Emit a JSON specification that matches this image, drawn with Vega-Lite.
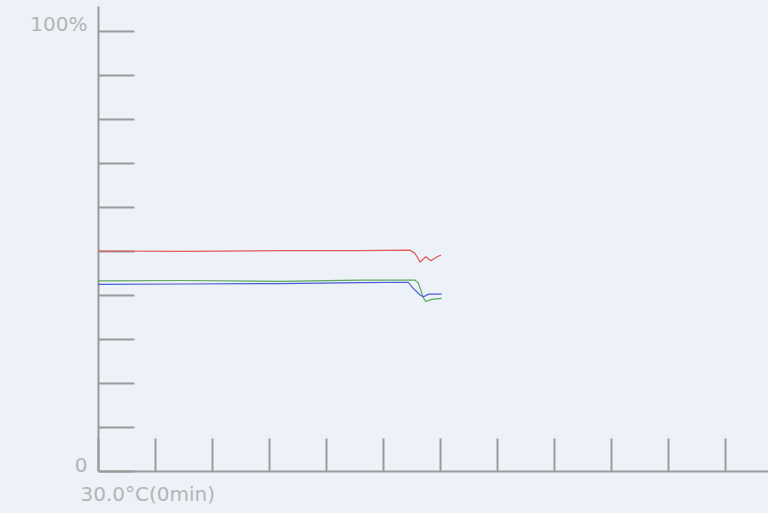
{
  "$schema": "https://vega.github.io/schema/vega-lite/v6.json",
  "width": 670,
  "height": 465,
  "autosize": {"type": "none"},
  "padding": {"left": 98, "top": 6, "right": 0, "bottom": 42},
  "background": "#EDF1F8",
  "config": {"view": {"stroke": null}},
  "data": {
    "values": [
      {"t": 0, "v": 50.0, "s": "red"},
      {"t": 1.5, "v": 49.9, "s": "red"},
      {"t": 3.2, "v": 50.1, "s": "red"},
      {"t": 4.6, "v": 50.1, "s": "red"},
      {"t": 5.47, "v": 50.2, "s": "red"},
      {"t": 5.56, "v": 49.5, "s": "red"},
      {"t": 5.65, "v": 47.5, "s": "red"},
      {"t": 5.75, "v": 48.7, "s": "red"},
      {"t": 5.84, "v": 47.8, "s": "red"},
      {"t": 5.95, "v": 48.7, "s": "red"},
      {"t": 6.02, "v": 49.1, "s": "red"},
      {"t": 0, "v": 43.2, "s": "green"},
      {"t": 1.5, "v": 43.3, "s": "green"},
      {"t": 3.2, "v": 43.1, "s": "green"},
      {"t": 4.6, "v": 43.4, "s": "green"},
      {"t": 5.56, "v": 43.4, "s": "green"},
      {"t": 5.62, "v": 42.7, "s": "green"},
      {"t": 5.71, "v": 39.3, "s": "green"},
      {"t": 5.75, "v": 38.5, "s": "green"},
      {"t": 5.85, "v": 39.0, "s": "green"},
      {"t": 6.03, "v": 39.25, "s": "green"},
      {"t": 0, "v": 42.4, "s": "blue"},
      {"t": 1.5, "v": 42.5, "s": "blue"},
      {"t": 3.2, "v": 42.6, "s": "blue"},
      {"t": 4.6, "v": 42.8, "s": "blue"},
      {"t": 5.44, "v": 42.9, "s": "blue"},
      {"t": 5.53, "v": 41.5, "s": "blue"},
      {"t": 5.65, "v": 40.0, "s": "blue"},
      {"t": 5.71, "v": 39.6, "s": "blue"},
      {"t": 5.8, "v": 40.2, "s": "blue"},
      {"t": 6.03, "v": 40.2, "s": "blue"}
    ]
  },
  "mark": {"type": "line", "strokeWidth": 1.2, "interpolate": "linear"},
  "encoding": {
    "x": {
      "field": "t",
      "type": "quantitative",
      "scale": {"domain": [0, 11.754], "nice": false, "zero": false},
      "axis": {
        "values": [0, 1, 2, 3, 4, 5, 6, 7, 8, 9, 10, 11],
        "labels": false,
        "grid": false,
        "domainColor": "#9A9A9A",
        "domainWidth": 2,
        "tickColor": "#9A9A9A",
        "tickWidth": 2,
        "tickSize": -33,
        "title": "30.0°C(0min)",
        "titleFont": "DejaVu Sans",
        "titleFontWeight": "normal",
        "titleFontSize": 20,
        "titleColor": "#B4B4B4",
        "titleAnchor": "start",
        "titleAlign": "left",
        "titleBaseline": "alphabetic",
        "titleX": -18,
        "titleY": 29
      }
    },
    "y": {
      "field": "v",
      "type": "quantitative",
      "scale": {"domain": [0, 105.68], "nice": false},
      "axis": {
        "values": [0, 10, 20, 30, 40, 50, 60, 70, 80, 90, 100],
        "labelExpr": "datum.value == 100 ? '100%' : (datum.value == 0 ? '0' : '')",
        "grid": false,
        "title": null,
        "domainColor": "#9A9A9A",
        "domainWidth": 2,
        "tickColor": "#9A9A9A",
        "tickWidth": 2,
        "tickSize": -36,
        "labelFont": "DejaVu Sans",
        "labelFontSize": 20,
        "labelColor": "#B4B4B4",
        "labelBaseline": "alphabetic",
        "labelAlign": "right",
        "labelPadding": 47,
        "encode": {"labels": {"update": {"dx": {"signal": "datum.value === 0 ? -13 : 0"}}}}
      }
    },
    "color": {
      "field": "s",
      "type": "nominal",
      "scale": {"domain": ["red", "green", "blue"], "range": ["#E25A5A", "#5DA85D", "#4A5DD8"]},
      "legend": null
    }
  }
}
